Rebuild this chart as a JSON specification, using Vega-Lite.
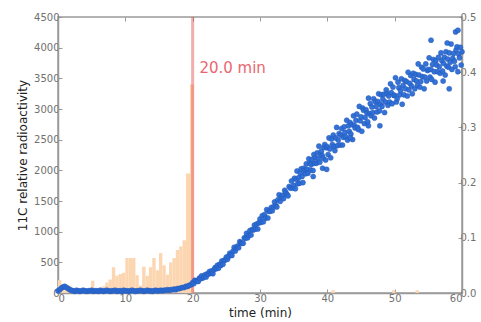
{
  "$schema": "https://vega.github.io/schema/vega-lite/v6.json",
  "width": 404,
  "height": 276,
  "autosize": {"type": "none"},
  "padding": {"left": 58, "top": 17, "right": 19, "bottom": 29},
  "background": "white",
  "config": {
    "view": {"stroke": "#9a9a9a", "strokeWidth": 1.5},
    "axis": {
      "grid": false,
      "domainColor": "#9a9a9a",
      "domainWidth": 1.5,
      "tickColor": "#9a9a9a",
      "tickWidth": 1,
      "labelColor": "#707070",
      "labelFont": "DejaVu Sans",
      "labelFontSize": 10,
      "titleFont": "DejaVu Sans",
      "titleFontSize": 12,
      "titleFontWeight": "normal",
      "titleColor": "#222222"
    }
  },
  "datasets": {
    "hist": [
      {"t0": 0.0, "t1": 0.5, "v": 210},
      {"t0": 0.5, "t1": 1.0, "v": 130},
      {"t0": 1.0, "t1": 1.5, "v": 130},
      {"t0": 1.5, "t1": 2.0, "v": 120},
      {"t0": 4.9, "t1": 5.4, "v": 200},
      {"t0": 6.5, "t1": 7.0, "v": 110},
      {"t0": 7.0, "t1": 7.5, "v": 170},
      {"t0": 7.5, "t1": 8.0, "v": 220},
      {"t0": 8.0, "t1": 8.5, "v": 420},
      {"t0": 8.5, "t1": 9.0, "v": 280},
      {"t0": 9.0, "t1": 9.5, "v": 310},
      {"t0": 9.5, "t1": 10.0, "v": 330},
      {"t0": 10.0, "t1": 10.5, "v": 570},
      {"t0": 10.5, "t1": 11.0, "v": 570},
      {"t0": 11.0, "t1": 11.5, "v": 570},
      {"t0": 11.5, "t1": 12.0, "v": 290},
      {"t0": 12.0, "t1": 12.5, "v": 120},
      {"t0": 12.5, "t1": 13.0, "v": 430},
      {"t0": 13.0, "t1": 13.5, "v": 280},
      {"t0": 13.5, "t1": 14.0, "v": 420},
      {"t0": 14.0, "t1": 14.5, "v": 570},
      {"t0": 14.5, "t1": 15.0, "v": 370},
      {"t0": 15.0, "t1": 15.5, "v": 650},
      {"t0": 15.5, "t1": 16.0, "v": 450},
      {"t0": 16.0, "t1": 16.5, "v": 300},
      {"t0": 16.5, "t1": 17.0, "v": 500},
      {"t0": 17.0, "t1": 17.5, "v": 570},
      {"t0": 17.5, "t1": 18.0, "v": 700},
      {"t0": 18.0, "t1": 18.5, "v": 760},
      {"t0": 18.5, "t1": 19.0, "v": 860},
      {"t0": 19.0, "t1": 19.6, "v": 1950},
      {"t0": 19.6, "t1": 20.15, "v": 3400},
      {"t0": 40.6, "t1": 41.1, "v": 45},
      {"t0": 49.6, "t1": 50.1, "v": 45},
      {"t0": 53.1, "t1": 53.6, "v": 45}
    ],
    "scatter": [
      {"t": 0, "r": 0.004}, {"t": 0.25, "r": 0.006}, {"t": 0.5, "r": 0.009}, {"t": 0.75, "r": 0.011},
      {"t": 1, "r": 0.012}, {"t": 1.25, "r": 0.01}, {"t": 1.5, "r": 0.008}, {"t": 1.75, "r": 0.006},
      {"t": 2, "r": 0.005}, {"t": 2.25, "r": 0.004}, {"t": 2.5, "r": 0.003}, {"t": 2.75, "r": 0.005},
      {"t": 3, "r": 0.004}, {"t": 3.25, "r": 0.003}, {"t": 3.5, "r": 0.004}, {"t": 3.75, "r": 0.005},
      {"t": 4, "r": 0.004}, {"t": 4.25, "r": 0.003}, {"t": 4.5, "r": 0.004}, {"t": 4.75, "r": 0.004},
      {"t": 5, "r": 0.005}, {"t": 5.25, "r": 0.003}, {"t": 5.5, "r": 0.004}, {"t": 5.75, "r": 0.004},
      {"t": 6, "r": 0.003}, {"t": 6.25, "r": 0.005}, {"t": 6.5, "r": 0.004}, {"t": 6.75, "r": 0.003},
      {"t": 7, "r": 0.004}, {"t": 7.25, "r": 0.005}, {"t": 7.5, "r": 0.004}, {"t": 7.75, "r": 0.003},
      {"t": 8, "r": 0.004}, {"t": 8.25, "r": 0.004}, {"t": 8.5, "r": 0.005}, {"t": 8.75, "r": 0.003},
      {"t": 9, "r": 0.004}, {"t": 9.25, "r": 0.004}, {"t": 9.5, "r": 0.003}, {"t": 9.75, "r": 0.005},
      {"t": 10, "r": 0.004}, {"t": 10.25, "r": 0.004}, {"t": 10.5, "r": 0.003}, {"t": 10.75, "r": 0.004},
      {"t": 11, "r": 0.005}, {"t": 11.25, "r": 0.004}, {"t": 11.5, "r": 0.003}, {"t": 11.75, "r": 0.004},
      {"t": 12, "r": 0.004}, {"t": 12.25, "r": 0.005}, {"t": 12.5, "r": 0.004}, {"t": 12.75, "r": 0.003},
      {"t": 13, "r": 0.004}, {"t": 13.25, "r": 0.005}, {"t": 13.5, "r": 0.004}, {"t": 13.75, "r": 0.004},
      {"t": 14, "r": 0.003}, {"t": 14.25, "r": 0.004}, {"t": 14.5, "r": 0.005}, {"t": 14.75, "r": 0.004},
      {"t": 15, "r": 0.004}, {"t": 15.25, "r": 0.005}, {"t": 15.5, "r": 0.004}, {"t": 15.75, "r": 0.005},
      {"t": 16, "r": 0.005}, {"t": 16.25, "r": 0.006}, {"t": 16.5, "r": 0.005}, {"t": 16.75, "r": 0.006},
      {"t": 17, "r": 0.006}, {"t": 17.25, "r": 0.007}, {"t": 17.5, "r": 0.006}, {"t": 17.75, "r": 0.008},
      {"t": 18, "r": 0.008}, {"t": 18.25, "r": 0.009}, {"t": 18.5, "r": 0.01}, {"t": 18.75, "r": 0.01},
      {"t": 19, "r": 0.012}, {"t": 19.25, "r": 0.012}, {"t": 19.5, "r": 0.014}, {"t": 19.75, "r": 0.015},
      {"t": 20.0, "r": 0.019}, {"t": 20.17, "r": 0.017}, {"t": 20.33, "r": 0.023}, {"t": 20.5, "r": 0.022}, {"t": 20.67, "r": 0.021}, {"t": 20.83, "r": 0.021},
      {"t": 21.0, "r": 0.027}, {"t": 21.17, "r": 0.026}, {"t": 21.33, "r": 0.031}, {"t": 21.5, "r": 0.027}, {"t": 21.67, "r": 0.029}, {"t": 21.83, "r": 0.033},
      {"t": 22.0, "r": 0.029}, {"t": 22.17, "r": 0.035}, {"t": 22.33, "r": 0.034}, {"t": 22.5, "r": 0.039}, {"t": 22.67, "r": 0.036}, {"t": 22.83, "r": 0.04},
      {"t": 23.0, "r": 0.035}, {"t": 23.17, "r": 0.042}, {"t": 23.33, "r": 0.046}, {"t": 23.5, "r": 0.044}, {"t": 23.67, "r": 0.05}, {"t": 23.83, "r": 0.045},
      {"t": 24.0, "r": 0.052}, {"t": 24.17, "r": 0.05}, {"t": 24.33, "r": 0.058}, {"t": 24.5, "r": 0.052}, {"t": 24.67, "r": 0.059}, {"t": 24.83, "r": 0.06},
      {"t": 25.0, "r": 0.065}, {"t": 25.17, "r": 0.061}, {"t": 25.33, "r": 0.066}, {"t": 25.5, "r": 0.072}, {"t": 25.67, "r": 0.069}, {"t": 25.83, "r": 0.068},
      {"t": 26.0, "r": 0.076}, {"t": 26.17, "r": 0.083}, {"t": 26.33, "r": 0.076}, {"t": 26.5, "r": 0.082}, {"t": 26.67, "r": 0.085}, {"t": 26.83, "r": 0.082},
      {"t": 27.0, "r": 0.093}, {"t": 27.17, "r": 0.091}, {"t": 27.33, "r": 0.09}, {"t": 27.5, "r": 0.09}, {"t": 27.67, "r": 0.1}, {"t": 27.83, "r": 0.099},
      {"t": 28.0, "r": 0.108}, {"t": 28.17, "r": 0.1}, {"t": 28.33, "r": 0.105}, {"t": 28.5, "r": 0.113}, {"t": 28.67, "r": 0.105}, {"t": 28.83, "r": 0.115},
      {"t": 29.0, "r": 0.114}, {"t": 29.17, "r": 0.123}, {"t": 29.33, "r": 0.116}, {"t": 29.5, "r": 0.125}, {"t": 29.67, "r": 0.116}, {"t": 29.83, "r": 0.127},
      {"t": 30.0, "r": 0.134}, {"t": 30.17, "r": 0.128}, {"t": 30.33, "r": 0.14}, {"t": 30.5, "r": 0.129}, {"t": 30.67, "r": 0.142}, {"t": 30.83, "r": 0.136},
      {"t": 31.0, "r": 0.151}, {"t": 31.17, "r": 0.136}, {"t": 31.33, "r": 0.148}, {"t": 31.5, "r": 0.148}, {"t": 31.67, "r": 0.155}, {"t": 31.83, "r": 0.149},
      {"t": 32.0, "r": 0.156}, {"t": 32.17, "r": 0.165}, {"t": 32.33, "r": 0.159}, {"t": 32.5, "r": 0.156}, {"t": 32.67, "r": 0.169}, {"t": 32.83, "r": 0.178},
      {"t": 33.0, "r": 0.166}, {"t": 33.17, "r": 0.173}, {"t": 33.33, "r": 0.177}, {"t": 33.5, "r": 0.171}, {"t": 33.67, "r": 0.186}, {"t": 33.83, "r": 0.182},
      {"t": 34.0, "r": 0.179}, {"t": 34.17, "r": 0.176}, {"t": 34.33, "r": 0.193}, {"t": 34.5, "r": 0.19}, {"t": 34.67, "r": 0.203}, {"t": 34.83, "r": 0.19},
      {"t": 35.0, "r": 0.195}, {"t": 35.12, "r": 0.208}, {"t": 35.25, "r": 0.189}, {"t": 35.38, "r": 0.206}, {"t": 35.5, "r": 0.221}, {"t": 35.62, "r": 0.198}, {"t": 35.75, "r": 0.209}, {"t": 35.88, "r": 0.199},
      {"t": 36.0, "r": 0.217}, {"t": 36.12, "r": 0.225}, {"t": 36.25, "r": 0.211}, {"t": 36.38, "r": 0.2}, {"t": 36.5, "r": 0.226}, {"t": 36.62, "r": 0.222}, {"t": 36.75, "r": 0.216}, {"t": 36.88, "r": 0.234},
      {"t": 37.0, "r": 0.224}, {"t": 37.12, "r": 0.217}, {"t": 37.25, "r": 0.243}, {"t": 37.38, "r": 0.235}, {"t": 37.5, "r": 0.223}, {"t": 37.62, "r": 0.233}, {"t": 37.75, "r": 0.242}, {"t": 37.88, "r": 0.222},
      {"t": 38.0, "r": 0.251}, {"t": 38.12, "r": 0.235}, {"t": 38.25, "r": 0.245}, {"t": 38.38, "r": 0.235}, {"t": 38.5, "r": 0.254}, {"t": 38.62, "r": 0.243}, {"t": 38.75, "r": 0.266}, {"t": 38.88, "r": 0.237},
      {"t": 39.0, "r": 0.251}, {"t": 39.12, "r": 0.257}, {"t": 39.25, "r": 0.249}, {"t": 39.38, "r": 0.244}, {"t": 39.5, "r": 0.264}, {"t": 39.62, "r": 0.269}, {"t": 39.75, "r": 0.241}, {"t": 39.88, "r": 0.263},
      {"t": 37.9, "r": 0.211}, {"t": 39.3, "r": 0.226}, {"t": 39.9, "r": 0.224},
      {"t": 40.0, "r": 0.265}, {"t": 40.12, "r": 0.251}, {"t": 40.25, "r": 0.281}, {"t": 40.38, "r": 0.261}, {"t": 40.5, "r": 0.245}, {"t": 40.62, "r": 0.279}, {"t": 40.75, "r": 0.269}, {"t": 40.88, "r": 0.286},
      {"t": 41.0, "r": 0.265}, {"t": 41.12, "r": 0.258}, {"t": 41.25, "r": 0.281}, {"t": 41.38, "r": 0.3}, {"t": 41.5, "r": 0.267}, {"t": 41.62, "r": 0.277}, {"t": 41.75, "r": 0.289}, {"t": 41.88, "r": 0.268},
      {"t": 42.0, "r": 0.286}, {"t": 42.12, "r": 0.298}, {"t": 42.25, "r": 0.268}, {"t": 42.38, "r": 0.282}, {"t": 42.5, "r": 0.301}, {"t": 42.62, "r": 0.291}, {"t": 42.75, "r": 0.283}, {"t": 42.88, "r": 0.313},
      {"t": 43.0, "r": 0.277}, {"t": 43.12, "r": 0.303}, {"t": 43.25, "r": 0.293}, {"t": 43.38, "r": 0.309}, {"t": 43.5, "r": 0.288}, {"t": 43.62, "r": 0.305}, {"t": 43.75, "r": 0.278}, {"t": 43.88, "r": 0.321},
      {"t": 44.0, "r": 0.304}, {"t": 44.12, "r": 0.299}, {"t": 44.25, "r": 0.313}, {"t": 44.38, "r": 0.324}, {"t": 44.5, "r": 0.3}, {"t": 44.62, "r": 0.296}, {"t": 44.75, "r": 0.338}, {"t": 44.88, "r": 0.312},
      {"t": 45.0, "r": 0.319}, {"t": 45.12, "r": 0.293}, {"t": 45.25, "r": 0.335}, {"t": 45.38, "r": 0.331}, {"t": 45.5, "r": 0.307}, {"t": 45.62, "r": 0.318}, {"t": 45.75, "r": 0.332}, {"t": 45.88, "r": 0.326},
      {"t": 46.0, "r": 0.31}, {"t": 46.12, "r": 0.353}, {"t": 46.25, "r": 0.325}, {"t": 46.38, "r": 0.343}, {"t": 46.5, "r": 0.321}, {"t": 46.62, "r": 0.337}, {"t": 46.75, "r": 0.327}, {"t": 46.88, "r": 0.352},
      {"t": 47.0, "r": 0.317}, {"t": 47.12, "r": 0.347}, {"t": 47.25, "r": 0.338}, {"t": 47.38, "r": 0.328}, {"t": 47.5, "r": 0.347}, {"t": 47.62, "r": 0.361}, {"t": 47.75, "r": 0.33}, {"t": 47.88, "r": 0.342},
      {"t": 48.0, "r": 0.359}, {"t": 48.12, "r": 0.338}, {"t": 48.25, "r": 0.351}, {"t": 48.38, "r": 0.36}, {"t": 48.5, "r": 0.327}, {"t": 48.62, "r": 0.346}, {"t": 48.75, "r": 0.368}, {"t": 48.88, "r": 0.361},
      {"t": 49.0, "r": 0.34}, {"t": 49.12, "r": 0.357}, {"t": 49.25, "r": 0.346}, {"t": 49.38, "r": 0.379}, {"t": 49.5, "r": 0.363}, {"t": 49.62, "r": 0.343}, {"t": 49.75, "r": 0.373}, {"t": 49.88, "r": 0.358},
      {"t": 43.4, "r": 0.281}, {"t": 46.1, "r": 0.303}, {"t": 47.8, "r": 0.303},
      {"t": 50.0, "r": 0.358}, {"t": 50.12, "r": 0.39}, {"t": 50.25, "r": 0.346}, {"t": 50.38, "r": 0.352}, {"t": 50.5, "r": 0.382}, {"t": 50.62, "r": 0.372}, {"t": 50.75, "r": 0.359}, {"t": 50.88, "r": 0.367},
      {"t": 51.0, "r": 0.388}, {"t": 51.12, "r": 0.342}, {"t": 51.25, "r": 0.376}, {"t": 51.38, "r": 0.359}, {"t": 51.5, "r": 0.385}, {"t": 51.62, "r": 0.37}, {"t": 51.75, "r": 0.383}, {"t": 51.88, "r": 0.357},
      {"t": 52.0, "r": 0.4}, {"t": 52.12, "r": 0.368}, {"t": 52.25, "r": 0.38}, {"t": 52.38, "r": 0.394}, {"t": 52.5, "r": 0.375}, {"t": 52.62, "r": 0.361}, {"t": 52.75, "r": 0.398}, {"t": 52.88, "r": 0.387},
      {"t": 53.0, "r": 0.37}, {"t": 53.12, "r": 0.396}, {"t": 53.25, "r": 0.384}, {"t": 53.38, "r": 0.376}, {"t": 53.5, "r": 0.415}, {"t": 53.62, "r": 0.395}, {"t": 53.75, "r": 0.373}, {"t": 53.88, "r": 0.383},
      {"t": 54.0, "r": 0.409}, {"t": 54.12, "r": 0.392}, {"t": 54.25, "r": 0.406}, {"t": 54.38, "r": 0.37}, {"t": 54.5, "r": 0.391}, {"t": 54.62, "r": 0.415}, {"t": 54.75, "r": 0.384}, {"t": 54.88, "r": 0.403},
      {"t": 55.0, "r": 0.405}, {"t": 55.12, "r": 0.426}, {"t": 55.25, "r": 0.391}, {"t": 55.38, "r": 0.405}, {"t": 55.5, "r": 0.387}, {"t": 55.62, "r": 0.414}, {"t": 55.75, "r": 0.423}, {"t": 55.88, "r": 0.401},
      {"t": 56.0, "r": 0.382}, {"t": 56.12, "r": 0.421}, {"t": 56.25, "r": 0.413}, {"t": 56.38, "r": 0.401}, {"t": 56.5, "r": 0.427}, {"t": 56.62, "r": 0.41}, {"t": 56.75, "r": 0.398}, {"t": 56.88, "r": 0.435},
      {"t": 57.0, "r": 0.421}, {"t": 57.12, "r": 0.402}, {"t": 57.25, "r": 0.416}, {"t": 57.38, "r": 0.427}, {"t": 57.5, "r": 0.395}, {"t": 57.62, "r": 0.437}, {"t": 57.75, "r": 0.411}, {"t": 57.88, "r": 0.424},
      {"t": 58.0, "r": 0.409}, {"t": 58.12, "r": 0.435}, {"t": 58.25, "r": 0.418}, {"t": 58.38, "r": 0.451}, {"t": 58.5, "r": 0.405}, {"t": 58.62, "r": 0.425}, {"t": 58.75, "r": 0.434}, {"t": 58.88, "r": 0.42},
      {"t": 59.0, "r": 0.41}, {"t": 59.12, "r": 0.44}, {"t": 59.25, "r": 0.446}, {"t": 59.38, "r": 0.401}, {"t": 59.5, "r": 0.433}, {"t": 59.62, "r": 0.426}, {"t": 59.75, "r": 0.445}, {"t": 59.88, "r": 0.413},
      {"t": 60.0, "r": 0.437},
      {"t": 55.4, "r": 0.458}, {"t": 57.8, "r": 0.453}, {"t": 59.05, "r": 0.473}, {"t": 59.4, "r": 0.476}, {"t": 58.1, "r": 0.37}, {"t": 57.2, "r": 0.384}
    ]
  },
  "layer": [
    {
      "data": {"name": "hist"},
      "mark": {"type": "rect", "color": "#fcd5b1", "opacity": 1},
      "encoding": {
        "x": {"field": "t0", "type": "quantitative", "scale": {"domain": [0, 60], "nice": false},
          "axis": {"orient": "bottom", "values": [0, 10, 20, 30, 40, 50, 60], "tickSize": -4, "labelPadding": 4, "title": "time (min)", "titlePadding": 4}},
        "x2": {"field": "t1"},
        "y": {"field": "v", "type": "quantitative", "scale": {"domain": [0, 4500], "nice": false},
          "axis": {"orient": "left", "format": "d", "values": [0, 500, 1000, 1500, 2000, 2500, 3000, 3500, 4000, 4500], "tickSize": -4, "labelPadding": 3, "title": "11C relative radioactivity", "titlePadding": 4}},
        "y2": {"datum": 0}
      }
    },
    {
      "data": {"values": [{"t": 20}]},
      "mark": {"type": "rule", "color": "#e34a4a", "opacity": 0.45, "strokeWidth": 3},
      "encoding": {
        "x": {"field": "t", "type": "quantitative", "scale": {"domain": [0, 60], "nice": false}, "axis": null}
      }
    },
    {
      "data": {"values": [{"t": 21, "v": 3590, "label": "20.0 min"}]},
      "mark": {"type": "text", "align": "left", "baseline": "alphabetic", "font": "DejaVu Sans", "fontSize": 15, "color": "#e8676f"},
      "encoding": {
        "x": {"field": "t", "type": "quantitative", "scale": {"domain": [0, 60], "nice": false}, "axis": null},
        "y": {"field": "v", "type": "quantitative", "scale": {"domain": [0, 4500], "nice": false}, "axis": null},
        "text": {"field": "label"}
      }
    },
    {
      "data": {"name": "scatter"},
      "mark": {"type": "point", "filled": true, "size": 26, "color": "#2b6cd4", "opacity": 0.95, "stroke": "#2257b8", "strokeWidth": 0.5},
      "encoding": {
        "x": {"field": "t", "type": "quantitative", "scale": {"domain": [0, 60], "nice": false},
          "axis": {"orient": "top", "values": [10, 20, 30, 40, 50], "tickSize": -4, "labels": false, "domain": false, "title": null}},
        "y": {"field": "r", "type": "quantitative", "scale": {"domain": [0, 0.5], "nice": false},
          "axis": {"orient": "right", "values": [0, 0.1, 0.2, 0.3, 0.4, 0.5], "format": ".1f", "tickSize": -4, "labelPadding": 2, "title": null}}
      }
    }
  ],
  "resolve": {"scale": {"x": "independent", "y": "independent"}}
}
